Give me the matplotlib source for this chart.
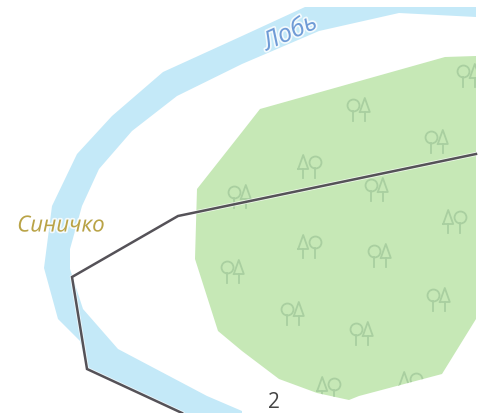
import matplotlib
matplotlib.use("Agg")
import matplotlib.pyplot as plt
import matplotlib.patheffects as pe
from matplotlib.patches import Polygon

outer_x = [476,305,242,163,112,77,52,44,58,80,87,182,242]
outer_y = [8,8,37,73,117,155,207,269,320,342,370,414,414]
inner_x = [476,399,319,242,177,132,99,82,70,70,83,118,207,242]
inner_y = [18,14,32,65,97,132,170,207,250,270,310,350,397,412]

forest_x = [260,445,476,476,442,359,349,317,279,242,218,195,197,242]
forest_y = [110,58,57,320,375,397,401,394,380,352,332,260,190,133]

road_x = [476,178,72,87,182]
road_y = [155,217,278,370,414]

tree_x = [359,437,309,377,469,240,309,380,454,439,293,362,233,328,410]
tree_y = [110,142,167,190,76,197,247,256,222,300,314,334,272,389,384]
tree_kind = ["ct","ct","tc","ct","ct","ct","tc","ct","tc","ct","ct","ct","ct","tc","tc"]

BLUE = "#c4e9f8"; GREEN = "#c6e8b6"; TREE = "#a9cfa0"; ROAD = "#555258"

fig = plt.figure(figsize=(4.84, 4.14), dpi=100)
ax = fig.add_axes([0, 0, 1, 1])
ax.set_xlim(0, 484); ax.set_ylim(414, 0); ax.axis("off")

ax.fill(outer_x + inner_x[::-1], outer_y + inner_y[::-1], color=BLUE, lw=0, zorder=1)
forest = Polygon(list(zip(forest_x, forest_y)), closed=True, fc=GREEN, ec="none", zorder=2)
ax.add_patch(forest)

dx = 5.8
for x, y, k in zip(tree_x, tree_y, tree_kind):
    for side, shape in zip((-1, 1), k):
        cx = x + side * dx
        if shape == "c":
            stem, = ax.plot([cx, cx], [y + 2, y + 12], color=TREE, lw=1.3, zorder=3)
            head, = ax.plot([cx], [y - 4], "o", ms=8.6, mfc="none", mec=TREE, mew=1.3, zorder=3)
        else:
            stem, = ax.plot([cx, cx], [y + 3, y + 12], color=TREE, lw=1.3, zorder=3)
            head, = ax.plot([cx - 5, cx, cx + 5, cx - 5], [y + 3, y - 11, y + 3, y + 3],
                            color=TREE, lw=1.3, zorder=3)
        stem.set_clip_path(forest); head.set_clip_path(forest)

ax.plot(road_x, road_y, color="white", lw=3.0, alpha=0.7, solid_joinstyle="miter", zorder=4)
ax.plot(road_x, road_y, color=ROAD, lw=1.8, solid_joinstyle="miter", zorder=5)

halo = [pe.withStroke(linewidth=2.5, foreground="white", alpha=0.8)]
ax.text(290, 34, "Лобь", color="#6f9bd6", fontsize=18, style="italic", family="Open Sans",
        rotation=24, ha="center", va="center", path_effects=halo, zorder=6)
ax.text(61, 227, "Синичко", color="#b9a346", fontsize=16, style="italic", family="Open Sans",
        ha="center", va="center", path_effects=halo, zorder=6)
ax.text(274, 403, "2", color="#444444", fontsize=15, family="Open Sans",
        ha="center", va="center", zorder=6)

fig.savefig("out.png", dpi=100, facecolor="white")
